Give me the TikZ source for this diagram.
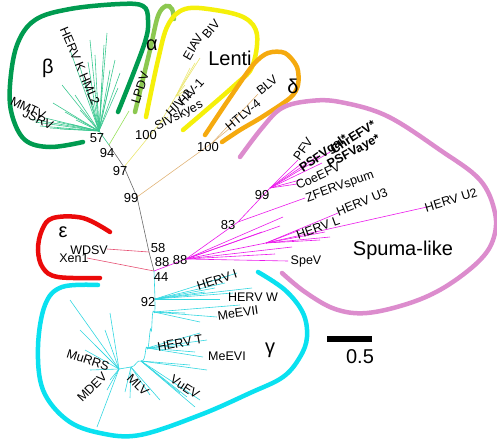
\documentclass[tikz,border=0pt]{standalone}
\usepackage{fontspec}
\setmainfont{Liberation Sans}
\definecolor{bout}{RGB}{0,155,80}
\definecolor{bbr}{RGB}{60,200,145}
\definecolor{aout}{RGB}{140,200,80}
\definecolor{abr}{RGB}{150,225,90}
\definecolor{lout}{RGB}{245,240,10}
\definecolor{lbr}{RGB}{235,230,110}
\definecolor{dout}{RGB}{245,170,15}
\definecolor{dbr}{RGB}{225,180,120}
\definecolor{sout}{RGB}{220,140,205}
\definecolor{sbr}{RGB}{235,25,235}
\definecolor{eout}{RGB}{235,10,10}
\definecolor{ebr}{RGB}{230,80,115}
\definecolor{gout}{RGB}{10,225,240}
\definecolor{gbr}{RGB}{50,215,225}
\definecolor{bk}{RGB}{105,105,105}
\tikzset{
  lab/.style={font=\fontsize{12.5}{14}\selectfont, inner sep=0pt},
  labb/.style={font=\fontsize{12.5}{14}\selectfont\bfseries, inner sep=0pt},
  bsv/.style={font=\fontsize{13}{15}\selectfont, inner sep=0pt},
  grp/.style={font=\fontsize{20}{24}\selectfont, inner sep=0pt},
  outl/.style={line width=4.5pt, line cap=round},
  brl/.style={line width=0.6pt}
}
\begin{document}
\begin{tikzpicture}[x=1pt,y=-1pt]
\useasboundingbox (0,0) rectangle (497,439);
% ---- main nodes
\coordinate (B) at (99,131);
\coordinate (N94) at (109,145);
\coordinate (N97) at (124,167);
\coordinate (N99) at (137,197);
\coordinate (W) at (149,252);
\coordinate (R) at (154,271);
\coordinate (A) at (129,111);
\coordinate (L) at (160,123);
\coordinate (L2) at (176,96);
\coordinate (D) at (212,143);
\coordinate (S1) at (186,259);
\coordinate (S83) at (238,222);
\coordinate (S99) at (270,188);
\coordinate (HL) at (266,243);
\coordinate (G0) at (155,299);
% ---- backbone
\draw[bk, brl] (N94) -- (N97) -- (N99) -- (W) -- (R);
\draw[bbr, brl] (B) -- (N94);
% ---- beta branches
\foreach \x/\y [count=\i] in {62/85,53/103,35/122,30/119,40/126,57/122,80/110,92/100,102/83,110/70,120/73,97/93,107/33,110/83,90/40,80/67,70/50,75/95,65/112,45/118,115/60,95/55,85/80,50/128,60/129,70/124,104/45,88/62,118/88,76/120}
  {\coordinate (bt\i) at (\x,\y); \draw[bbr, brl] (B) -- (bt\i);}
% ---- alpha
\draw[abr, brl] (N94) -- (A);
% ---- lenti
\draw[lbr, brl] (N97) -- (L) -- (L2);
\foreach \x/\y [count=\i] in {190/68,200/58,195/63,186/90,182/95,185/85}
  {\coordinate (lt\i) at (\x,\y); \draw[lbr, brl] (L2) -- (lt\i);}
\coordinate (lt7) at (168,117); \draw[lbr, brl] (L) -- (lt7);
% ---- delta
\draw[dbr, brl] (N99) -- (D);
\coordinate (dt1) at (230,128); \coordinate (dt2) at (258,94);
\draw[dbr, brl] (D) -- (dt1); \draw[dbr, brl] (D) -- (dt2);
% ---- epsilon
\coordinate (et1) at (107,249); \coordinate (et2) at (87,258);
\draw[ebr, brl] (W) -- (et1); \draw[ebr, brl] (R) -- (et2);
% ---- spuma
\draw[sbr, brl] (R) -- (S1) -- (S83) -- (S99);
\foreach \x/\y [count=\i] in {298/160,305/161,318/156,330/152,322/163,300/180,297/184}
  {\coordinate (st\i) at (\x,\y); \draw[sbr, brl] (S99) -- (st\i);}
\coordinate (sz) at (305,198); \draw[sbr, brl] (S83) -- (sz);
\draw[sbr, brl] (S1) -- (HL);
\foreach \x/\y [count=\i] in {427/207,338/213,325/232,330/237,320/240,300/230}
  {\coordinate (su\i) at (\x,\y); \draw[sbr, brl] (HL) -- (su\i);}
\foreach \x/\y [count=\i] in {283/217,262/232,288/261,275/254,280/226,292/247}
  {\coordinate (sv\i) at (\x,\y); \draw[sbr, brl] (S1) -- (sv\i);}
% ---- gamma
\coordinate (G1) at (154,312);
\coordinate (G2) at (151,330);
\coordinate (G3) at (147,348);
\coordinate (G4) at (141,361);
\coordinate (G5) at (131,367);
\coordinate (G6) at (119,369);
\draw[gbr, brl] (R) -- (G0) to[out=95,in=-70] (G1) to[out=110,in=-80] (G2) to[out=100,in=-75] (G3) to[out=110,in=-20] (G4) to[out=160,in=0] (G5) -- (G6);
\foreach \x/\y [count=\i] in {237/273,225/283,215/288,205/292,252/288,233/293,220/299}
  {\coordinate (gA\i) at (\x,\y); \draw[gbr, brl] (G0) -- (gA\i);}
\foreach \x/\y [count=\i] in {185/313,217/317,200/322,240/305}
  {\coordinate (gB\i) at (\x,\y); \draw[gbr, brl] (G1) -- (gB\i);}
\foreach \x/\y [count=\i] in {207/340,200/333,190/345,203/357,195/352}
  {\coordinate (gC\i) at (\x,\y); \draw[gbr, brl] (G3) -- (gC\i);}
\foreach \x/\y [count=\i] in {207/370,190/365,195/407,187/397,180/393,200/400}
  {\coordinate (gD\i) at (\x,\y); \draw[gbr, brl] (G4) -- (gD\i);}
\foreach \x/\y [count=\i] in {160/400,150/395,130/398,125/392}
  {\coordinate (gE\i) at (\x,\y); \draw[gbr, brl] (G5) -- (gE\i);}
\foreach \x/\y [count=\i] in {97/427,107/390,110/380,90/370,110/313,70/300,80/330,95/345,85/350,105/330}
  {\coordinate (gF\i) at (\x,\y); \draw[gbr, brl] (G6) -- (gF\i);}
% ---- outlines
\draw[bout, outl] plot[smooth, tension=0.6] coordinates {(83,142) (50,147) (25,140) (12,115) (10,85) (17,45) (35,20) (70,9) (120,4) (143,6) (148,20) (144,45) (118,112)};
\draw[aout, outl] plot[smooth, tension=0.6] coordinates {(135,112) (150,50) (158,16) (166,6) (172,9) (174,19)};
\draw[lout, outl] plot[smooth, tension=0.6] coordinates {(146,117) (158,60) (168,25) (185,9) (215,10) (245,18) (257,35) (252,67) (235,85) (183,130)};
\draw[dout, outl] plot[smooth, tension=0.5] coordinates {(205,135) (229,99) (253,65) (268,53) (285,53) (297,67) (298,85) (290,98) (262,117) (240,130) (222,142)};
\draw[sout, outl] plot[smooth, tension=0.6] coordinates {(240,157) (262,128) (282,108) (310,101) (340,102) (387,116) (440,150) (480,180) (495,213) (493,240) (478,262) (445,287) (410,303) (367,313) (335,309) (305,292) (282,273)};
\draw[eout, outl] plot[smooth, tension=0.6] coordinates {(110,232) (83,218) (53,218) (42,230) (38,250) (43,268) (58,277) (100,278)};
\draw[gout, outl] plot[smooth, tension=0.6] coordinates {(98,285) (62,287) (45,305) (38,347) (43,390) (67,420) (100,433) (140,435) (200,415) (250,393) (283,377) (300,357) (307,337) (303,313) (285,290) (258,272)};
% ---- scale bar
\coordinate (sb1) at (327,339); \coordinate (sb2) at (372,339);
\draw[line width=6pt] (sb1) -- (sb2);
\node[grp, font=\fontsize{20}{24}\selectfont] (sbl) at (360,357) {0.5};
% ---- group labels
\node[grp] (gbeta) at (48,68) {β};
\node[grp] (galpha) at (152,45) {α};
\node[grp] (glenti) at (230,58) {Lenti};
\node[grp] (gdelta) at (293,86) {δ};
\node[grp] (geps) at (63,232) {ε};
\node[grp] (gspuma) at (403,250) {Spuma-like};
\node[grp] (ggamma) at (270,350) {γ};
% ---- leaf labels
\node[lab, rotate=-67] (tK) at (80,66) {HERV K HML2};
\node[lab, rotate=-25] (tMMTV) at (28,108) {MMTV};
\node[lab, rotate=-25] (tJSRV) at (38,119) {JSRV};
\node[lab, rotate=72] (tLPDV) at (140,88) {LPDV};
\node[lab, rotate=60] (tEIAV) at (193,47) {EIAV};
\node[lab, rotate=50] (tBIV) at (211,29) {BIV};
\node[lab, rotate=48] (tHIV1) at (191,92) {HIV-1};
\node[lab, rotate=45] (tHIV2) at (179,103) {HIV-2};
\node[lab, rotate=27] (tSIV) at (179,116) {SIVskyes};
\node[lab, rotate=40] (tHTLV) at (243,115) {HTLV-4};
\node[lab, rotate=40] (tBLV) at (267,85) {BLV};
\node[lab, rotate=55] (tPFV) at (303,149) {PFV};
\node[labb, rotate=35] (tPSFVgal) at (324,154) {PSFVgal*};
\node[labb, rotate=33] (tChr) at (353,137) {ChrEFV*};
\node[labb, rotate=28] (tPSFVaye) at (354,152) {PSFVaye*};
\node[lab, rotate=25] (tCoe) at (318,176) {CoeEFV};
\node[lab, rotate=20] (tZF) at (340,187) {ZFERVspum};
\node[lab, rotate=20] (tHL) at (318,228) {HERV L};
\node[lab, rotate=22] (tU3) at (362,202) {HERV U3};
\node[lab, rotate=17] (tU2) at (451,200) {HERV U2};
\node[lab] (tSpeV) at (306,261) {SpeV};
\node[lab] (tWDSV) at (89,250) {WDSV};
\node[lab] (tXen) at (74,258) {Xen1};
\node[lab, rotate=18] (tHI) at (217,280) {HERV I};
\node[lab] (tHW) at (253,297) {HERV W};
\node[lab, rotate=8] (tMe2) at (238,313) {MeEVII};
\node[lab, rotate=10] (tHT) at (180,343) {HERV T};
\node[lab] (tMe1) at (227,356) {MeEVI};
\node[lab, rotate=-33] (tVu) at (185,387) {VuEV};
\node[lab, rotate=-45] (tMLV) at (138,385) {MLV};
\node[lab, rotate=45] (tMDEV) at (92,387) {MDEV};
\node[lab, rotate=-18] (tMu) at (88,360) {MuRRS};
% ---- bootstrap values
\node[bsv] (v57) at (97,138) {57};
\node[bsv] (v94) at (107,153) {94};
\node[bsv] (v97) at (120,171) {97};
\node[bsv] (v100a) at (146,135) {100};
\node[bsv] (v100b) at (208,147) {100};
\node[bsv] (v99a) at (131,198) {99};
\node[bsv] (v58) at (158,248) {58};
\node[bsv] (v88a) at (162,262) {88};
\node[bsv] (v88b) at (180,260) {88};
\node[bsv] (v44) at (161,277) {44};
\node[bsv] (v92) at (148,302) {92};
\node[bsv] (v83) at (228,225) {83};
\node[bsv] (v99b) at (262,195) {99};
\end{tikzpicture}
\end{document}
